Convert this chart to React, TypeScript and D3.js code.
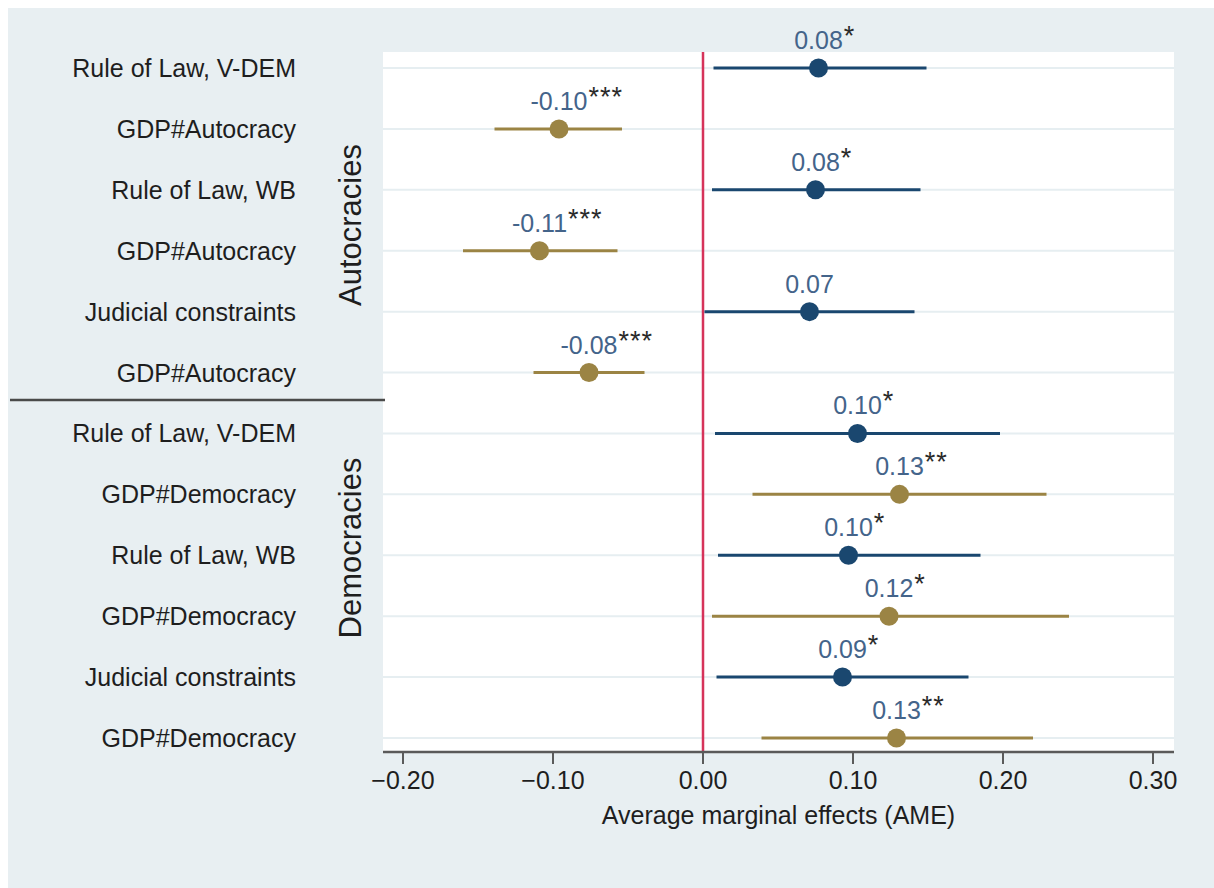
import React, { useEffect, useRef } from "react";
import * as d3 from "d3";

// Coefficient plot: average marginal effects with 95% intervals by regime type
const rowLabels = [
  "Rule of Law, V-DEM",
  "GDP#Autocracy",
  "Rule of Law, WB",
  "GDP#Autocracy",
  "Judicial constraints",
  "GDP#Autocracy",
  "Rule of Law, V-DEM",
  "GDP#Democracy",
  "Rule of Law, WB",
  "GDP#Democracy",
  "Judicial constraints",
  "GDP#Democracy",
];
const estimates = [0.077, -0.096, 0.075, -0.109, 0.071, -0.076, 0.103, 0.131, 0.097, 0.124, 0.093, 0.129];
const lowerCI = [0.007, -0.139, 0.006, -0.16, 0.001, -0.113, 0.008, 0.033, 0.01, 0.006, 0.009, 0.039];
const upperCI = [0.149, -0.054, 0.145, -0.057, 0.141, -0.039, 0.198, 0.229, 0.185, 0.244, 0.177, 0.22];
const valueLabels = ["0.08", "-0.10", "0.08", "-0.11", "0.07", "-0.08", "0.10", "0.13", "0.10", "0.12", "0.09", "0.13"];
const stars = ["*", "***", "*", "***", "", "***", "*", "**", "*", "*", "*", "**"];
const series = ["rule", "gdp", "rule", "gdp", "rule", "gdp", "rule", "gdp", "rule", "gdp", "rule", "gdp"];
const groups = [
  { name: "Autocracies", center: 225 },
  { name: "Democracies", center: 548 },
];
const xTicks = [-0.2, -0.1, 0, 0.1, 0.2, 0.3];

const W = 1214;
const H = 888;
const FONT = "'Liberation Sans', Arial, sans-serif";
const FS = 25;

export default function App() {
  const ref = useRef<SVGSVGElement | null>(null);

  useEffect(() => {
    const svg = d3.select(ref.current);
    svg.selectAll("*").remove();

    const plot = { left: 383, right: 1174, top: 52, bottom: 752 };
    const x = d3.scaleLinear().domain([-0.2, 0.3]).range([403, 1153]);
    const y = d3
      .scalePoint<number>()
      .domain(d3.range(rowLabels.length))
      .range([68, 738]);
    const color = d3.scaleOrdinal<string, string>().domain(["rule", "gdp"]).range(["#1a476f", "#9b8444"]);

    // outer background
    svg.append("rect").attr("x", 8).attr("y", 8).attr("width", W - 8).attr("height", H - 8).attr("fill", "#e8eff2");
    // plot region
    svg
      .append("rect")
      .attr("x", plot.left)
      .attr("y", plot.top)
      .attr("width", plot.right - plot.left)
      .attr("height", plot.bottom - plot.top)
      .attr("fill", "#ffffff");

    // horizontal grid lines at each row
    svg
      .append("g")
      .selectAll("line")
      .data(d3.range(rowLabels.length))
      .join("line")
      .attr("x1", plot.left)
      .attr("x2", plot.right)
      .attr("y1", (i) => y(i)!)
      .attr("y2", (i) => y(i)!)
      .attr("stroke", "#e6eef1")
      .attr("stroke-width", 2);

    // zero reference line
    svg
      .append("line")
      .attr("x1", x(0))
      .attr("x2", x(0))
      .attr("y1", plot.top)
      .attr("y2", plot.bottom)
      .attr("stroke", "#d6335a")
      .attr("stroke-width", 2.5);

    // x axis
    const axisG = svg.append("g");
    axisG
      .append("line")
      .attr("x1", plot.left)
      .attr("x2", plot.right)
      .attr("y1", plot.bottom)
      .attr("y2", plot.bottom)
      .attr("stroke", "#5a5a5a")
      .attr("stroke-width", 2.5);
    axisG
      .selectAll("line.tick")
      .data(xTicks)
      .join("line")
      .attr("class", "tick")
      .attr("x1", (d) => x(d))
      .attr("x2", (d) => x(d))
      .attr("y1", plot.bottom)
      .attr("y2", plot.bottom + 12)
      .attr("stroke", "#5a5a5a")
      .attr("stroke-width", 2);
    axisG
      .selectAll("text.ticklabel")
      .data(xTicks)
      .join("text")
      .attr("class", "ticklabel")
      .attr("x", (d) => x(d))
      .attr("y", 789)
      .attr("text-anchor", "middle")
      .attr("font-family", FONT)
      .attr("font-size", FS)
      .attr("fill", "#1e1e1e")
      .text((d) => d3.format(".2f")(d));
    svg
      .append("text")
      .attr("x", (plot.left + plot.right) / 2)
      .attr("y", 824)
      .attr("text-anchor", "middle")
      .attr("font-family", FONT)
      .attr("font-size", FS)
      .attr("fill", "#1e1e1e")
      .text("Average marginal effects (AME)");

    // row labels
    svg
      .append("g")
      .selectAll("text")
      .data(rowLabels)
      .join("text")
      .attr("x", 296)
      .attr("y", (_, i) => y(i)!)
      .attr("dy", "0.36em")
      .attr("text-anchor", "end")
      .attr("font-family", FONT)
      .attr("font-size", FS)
      .attr("fill", "#1e1e1e")
      .text((d) => d);

    // group titles
    svg
      .append("g")
      .selectAll("text")
      .data(groups)
      .join("text")
      .attr("transform", (d) => `translate(361,${d.center}) rotate(-90)`)
      .attr("text-anchor", "middle")
      .attr("font-family", FONT)
      .attr("font-size", 31)
      .attr("fill", "#1e1e1e")
      .text((d) => d.name);

    // group divider
    svg
      .append("line")
      .attr("x1", 10)
      .attr("x2", 385)
      .attr("y1", 400)
      .attr("y2", 400)
      .attr("stroke", "#4a4a4a")
      .attr("stroke-width", 2.5);

    // confidence intervals
    const idx = d3.range(rowLabels.length);
    svg
      .append("g")
      .selectAll("line")
      .data(idx)
      .join("line")
      .attr("x1", (i) => x(lowerCI[i]))
      .attr("x2", (i) => x(upperCI[i]))
      .attr("y1", (i) => y(i)!)
      .attr("y2", (i) => y(i)!)
      .attr("stroke", (i) => color(series[i]))
      .attr("stroke-width", 3);

    // point estimates
    svg
      .append("g")
      .selectAll("circle")
      .data(idx)
      .join("circle")
      .attr("cx", (i) => x(estimates[i]))
      .attr("cy", (i) => y(i)!)
      .attr("r", 9.5)
      .attr("fill", (i) => color(series[i]));

    // value labels with significance stars
    const lab = svg.append("g");
    idx.forEach((i) => {
      const cx = x(estimates[i]);
      const cy = y(i)!;
      const t = lab
        .append("text")
        .attr("x", cx)
        .attr("y", cy - 19)
        .attr("text-anchor", "middle")
        .attr("font-family", FONT)
        .attr("font-size", FS)
        .attr("fill", "#44648a")
        .text(valueLabels[i]);
      const w = (t.node() as SVGTextElement).getComputedTextLength();
      if (stars[i]) {
        lab
          .append("text")
          .attr("x", cx + w / 2 + 1)
          .attr("y", cy - 23)
          .attr("font-family", FONT)
          .attr("font-size", 27)
          .attr("letter-spacing", 1)
          .attr("fill", "#2a2a2a")
          .text(stars[i]);
      }
    });
  }, []);

  return (
    <svg
      ref={ref}
      width={W}
      height={H}
      style={{ position: "absolute", left: 0, top: 0, display: "block" }}
    />
  );
}
